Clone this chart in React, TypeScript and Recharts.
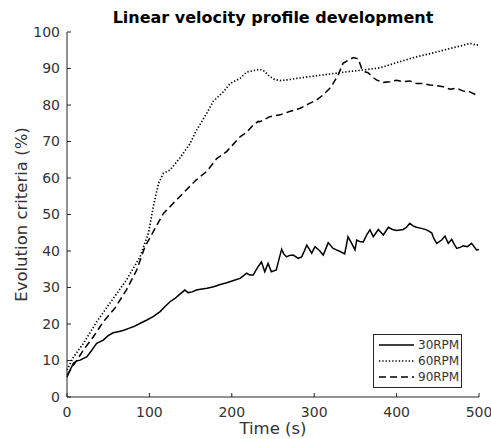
import { LineChart, Line, XAxis, YAxis, Legend } from 'recharts';

// time (s) / evolution criteria (%)
const rpm30: [number, number][] = [
  [0, 5.4], [2, 6.5], [5, 8], [8, 9.3], [12, 9.9], [16, 10.1], [20, 10.6], [24, 11],
  [30, 12.8], [36, 14.7], [44, 15.6], [50, 16.8], [56, 17.6], [62, 17.9], [68, 18.2],
  [75, 18.8], [81, 19.3], [89, 20.2], [97, 21.1], [105, 22.1], [113, 23.4], [119, 24.8],
  [125, 26.1], [131, 27], [137, 28.2], [143, 29.3], [147, 28.6], [152, 28.8], [157, 29.3],
  [162, 29.5], [170, 29.8], [178, 30.2], [186, 30.8], [194, 31.3], [202, 31.9], [210, 32.5],
  [214, 33.2], [218, 33.9], [222, 33.4], [226, 33.4], [229, 34.6], [232, 35.7], [236, 37],
  [240, 34.3], [244, 36.6], [248, 34.3], [254, 34.8], [257, 37.5], [260.5, 40.5], [263, 39.2],
  [266.5, 38.4], [270, 38.8], [274.6, 38.9], [280.7, 38], [284.8, 38.4], [288, 40], [291, 41.6],
  [294, 40.5], [297, 39.4], [301, 41.2], [306, 40.2], [311, 38.9], [317, 42.3], [323, 40.7],
  [327, 40.3], [332, 39.8], [337, 39.2], [341, 43.9], [345.5, 42.1], [349.5, 40.3], [351.6, 43],
  [355, 42.6], [359.6, 42.5], [363.7, 44.4], [367.7, 45.8], [371.7, 43.9], [377.8, 45.9],
  [383.9, 44.4], [390, 46.5], [395, 45.9], [400, 45.6], [408, 45.9], [412, 46.5], [416, 47.6],
  [420, 46.9], [424, 46.5], [430, 46.2], [436.5, 45.8], [442.6, 45], [445, 43.5], [448.7, 42.1],
  [454.7, 43], [458.7, 44.1], [462.7, 42.1], [466.9, 43.2], [470, 41.8], [473, 40.7], [477, 41],
  [481, 41.4], [486, 41.2], [491, 42.1], [494, 41.2], [497, 40.3], [500, 40.4],
];

const rpm60: [number, number][] = [
  [0, 7.4], [8, 11], [20, 14.7], [36, 20.6], [52, 25.7], [72, 32], [88.6, 38.4], [98.7, 44.8],
  [104.7, 52.1], [111, 58.5], [117, 61.3], [121, 61.7], [125, 62.2], [137, 65.5], [149, 69.3],
  [157, 73], [169.5, 77.7], [177.5, 81], [189.7, 83.6], [198, 85.9], [210, 87.3], [218, 89],
  [230, 89.6], [234, 89.8], [240, 89.2], [246, 87.8], [252, 87], [258.5, 86.7], [268, 86.9],
  [278.8, 87.3], [299, 87.9], [319, 88.5], [339.5, 89.1], [359.6, 89.6], [380, 90.2],
  [400, 91.6], [424, 93.2], [445, 94.3], [465, 95.5], [480, 96.3], [489, 96.9], [497, 96.4],
  [500, 96.5],
];

const rpm90: [number, number][] = [
  [0, 6], [12, 10.1], [20, 12.9], [32, 16.5], [44, 20.6], [58, 24.3], [72, 29.3], [84.6, 34.8],
  [94.7, 41.2], [104.7, 45.3], [117, 50.3], [121, 51.2], [133, 54], [145, 56.8], [157, 59.5],
  [169.5, 61.8], [181.7, 65.3], [194, 67.3], [210, 71.3], [218, 72.5], [226, 74.5], [232, 75.5],
  [234, 75.4], [246, 76.8], [258.5, 77.3], [270, 78.2], [283, 79.1], [295, 80.5], [303, 81.4],
  [311, 82.8], [319, 84.6], [323, 85.9], [329, 88.2], [335, 91.4], [341, 92.2], [347.5, 93],
  [353.5, 92.6], [357.6, 90], [361.7, 89.1], [365.7, 88.8], [371, 87.6], [376, 86.8],
  [384, 86.2], [392, 86.4], [400, 86.8], [408, 86.4], [416, 86.6], [424, 85.9], [432, 85.9],
  [440.5, 85.5], [448, 85.3], [456.6, 85], [465, 84.3], [473, 84.6], [481, 83.8], [489, 83.6],
  [497, 82.7], [500, 82.6],
];

const xTicks = [0, 100, 200, 300, 400, 500];
const yTicks = [0, 10, 20, 30, 40, 50, 60, 70, 80, 90, 100];

const series = [
  { name: '30RPM', points: rpm30, dash: undefined, width: 1.5 },
  { name: '60RPM', points: rpm60, dash: '1.3 2', width: 1.7 },
  { name: '90RPM', points: rpm90, dash: '7 4', width: 1.5 },
];

const FONT = '"DejaVu Sans", sans-serif';
const AXIS = '#262626';
const TEXT = '#333';

const toRows = (pts: [number, number][]) => pts.map(([t, v]) => ({ t, v }));

function LegendBox() {
  return (
    <div
      style={{
        boxSizing: 'border-box',
        width: 89,
        border: `1px solid ${AXIS}`,
        background: '#fff',
        padding: '2px 0 2px 5px',
        fontFamily: FONT,
        fontSize: 12,
        color: TEXT,
        lineHeight: '16px',
        whiteSpace: 'nowrap',
      }}
    >
      {series.map((s) => (
        <div key={s.name} style={{ display: 'flex', alignItems: 'center' }}>
          <svg width={35} height={16} style={{ marginRight: 4, flexShrink: 0 }}>
            <line x1={0} y1={8} x2={35} y2={8} stroke="#000" strokeWidth={s.width} strokeDasharray={s.dash} />
          </svg>
          <span>{s.name}</span>
        </div>
      ))}
    </div>
  );
}

export default function App() {
  return (
    <div style={{ position: 'fixed', left: 0, top: 0, width: 491, height: 439, background: '#fff' }}>
      <div
        style={{
          position: 'absolute',
          left: 67,
          width: 412,
          top: 8,
          textAlign: 'center',
          fontFamily: FONT,
          fontWeight: 'bold',
          fontSize: 16,
          color: '#000',
        }}
      >
        Linear velocity profile development
      </div>
      <LineChart width={491} height={439} margin={{ top: 32, right: 12, bottom: 0, left: 0 }}>
        <XAxis
          type="number"
          dataKey="t"
          domain={[0, 500]}
          ticks={xTicks}
          height={42}
          stroke={AXIS}
          tickSize={-4}
          tickMargin={14}
          tick={{ fill: TEXT, fontSize: 14, fontFamily: FONT }}
          label={({ viewBox }: any) => (
            <text
              x={viewBox.x + viewBox.width / 2}
              y={428}
              textAnchor="middle"
              dominantBaseline="central"
              fontFamily={FONT}
              fontSize={16.5}
              fill={TEXT}
            >
              Time (s)
            </text>
          )}
        />
        <YAxis
          type="number"
          dataKey="v"
          domain={[0, 100]}
          ticks={yTicks}
          width={67}
          stroke={AXIS}
          tickSize={-4}
          tickMargin={11}
          tick={{ fill: TEXT, fontSize: 14, fontFamily: FONT }}
          label={({ viewBox }: any) => {
            const cy = viewBox.y + viewBox.height / 2;
            return (
              <text
                x={21}
                y={cy}
                transform={`rotate(-90 21 ${cy})`}
                textAnchor="middle"
                dominantBaseline="central"
                fontFamily={FONT}
                fontSize={16.5}
                fill={TEXT}
              >
                Evolution criteria (%)
              </text>
            );
          }}
        />
        <Legend
          layout="horizontal"
          verticalAlign="middle"
          align="center"
          content={() => <LegendBox />}
          wrapperStyle={{ left: 373, top: 334, width: 89 }}
        />
        {series.map((s) => (
          <Line
            key={s.name}
            name={s.name}
            data={toRows(s.points)}
            dataKey="v"
            type="linear"
            stroke="#000"
            strokeWidth={s.width}
            strokeDasharray={s.dash}
            dot={false}
            activeDot={false}
            isAnimationActive={false}
          />
        ))}
      </LineChart>
    </div>
  );
}
